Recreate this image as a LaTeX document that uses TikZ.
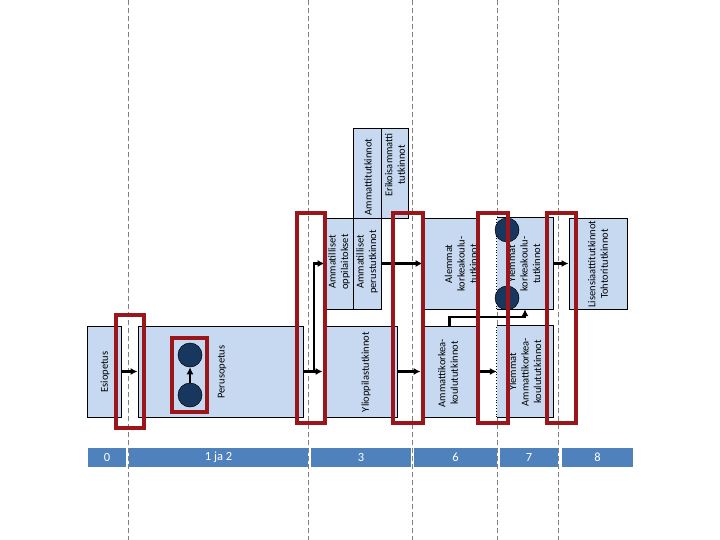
\documentclass[tikz,border=0pt]{standalone}
\usepackage{fontspec}
\setmainfont{Carlito}
\usetikzlibrary{arrows.meta}

\definecolor{boxblue}{RGB}{198,217,241}
\definecolor{barblue}{RGB}{79,129,189}
\definecolor{markred}{RGB}{155,22,26}
\definecolor{dotnavy}{RGB}{23,55,94}
\definecolor{guidegray}{RGB}{128,128,128}

\tikzset{
  edubox/.style={draw=black, fill=boxblue, line width=0.8pt, inner sep=0pt},
  eduopen/.style={fill=boxblue, inner sep=0pt},
  edutext/.style={rotate=90, align=center, inner sep=0pt,
    font=\fontsize{10.5}{12.5}\selectfont},
  levelbar/.style={fill=barblue, text=white, inner sep=0pt, minimum height=19,
    font=\fontsize{12.5}{13}\selectfont},
  ball/.style={circle, draw=black, line width=0.5pt, fill=dotnavy, minimum size=24, inner sep=0pt},
  flow/.style={-{Latex[length=7pt,width=7pt]}, line width=2.2pt},
  guide/.style={draw=guidegray, line width=0.8pt, dash pattern=on 5pt off 3pt},
  markbox/.style={draw=markred, line width=3.4pt}
}

\begin{document}
\begin{tikzpicture}[x=1pt,y=-1pt]
  \useasboundingbox (0,0) rectangle (720,540);
  % guide lines
  \foreach \gx in {128,308,412,497,558}
    \draw[guide] (\gx,0) -- (\gx,540);

  % level bar
  \node[levelbar, minimum width=38]  (lvl0) at (107,457.5)   {0};
  \node[levelbar, minimum width=179] (lvl1) at (218.5,457.5) {1 ja 2};
  \node[levelbar, minimum width=100] (lvl3) at (361,457.5)   {3};
  \node[levelbar, minimum width=83]  (lvl6) at (455.5,457.5) {6};
  \node[levelbar, minimum width=58]  (lvl7) at (529,457.5)   {7};
  \node[levelbar, minimum width=71]  (lvl8) at (597.5,457.5) {8};

  % school boxes
  \node[edubox, minimum width=34, minimum height=91]  (esi)   at (104,371.5)   {};
  \node[edubox, minimum width=165, minimum height=91] (perus) at (220.5,371.5) {};
  \node[edubox, minimum width=74, minimum height=91]  (ylio)  at (360,371.5)   {};
  \node[edubox, minimum width=28, minimum height=91]  (ammopp) at (339,263.5)  {};
  \node[edubox, minimum width=28, minimum height=91]  (ammper) at (367,263.5)  {};
  \node[edubox, minimum width=28, minimum height=90]  (ammtut) at (367,173)    {};
  \node[edubox, minimum width=27, minimum height=90]  (erik)  at (394.5,173)   {};
  \node[edubox, minimum width=55, minimum height=91]  (alem)  at (450.5,263.5) {};
  \node[edubox, minimum width=57, minimum height=91]  (amk)   at (449.5,371.5) {};
  \node[eduopen, minimum width=56, minimum height=91] (ylkk)  at (525,263.5)   {};
  \node[eduopen, minimum width=56, minimum height=91] (ylamk) at (525,371.5)   {};
  \node[edubox, minimum width=58, minimum height=91]  (lis)   at (598,263.5)   {};
  % open left side of the upper degrees
  \foreach \bx in {ylkk,ylamk}{
    \draw[line width=0.8pt] (\bx.north west) -- (\bx.north east) -- (\bx.south east) -- (\bx.south west);
    \draw[line width=0.8pt, dotted] (\bx.south west) -- (\bx.north west);
  }

  % box texts
  \node[edutext] (esi-t)    at (105,372) {Esiopetus};
  \node[edutext] (perus-t)  at (222,372) {Perusopetus};
  \node[edutext] (ylio-t)   at (366,372) {Ylioppilastutkinnot};
  \node[edutext] (ammopp-t) at (339,262) {Ammatilliset\\oppilaitokset};
  \node[edutext] (ammper-t) at (367,262) {Ammatilliset\\perustutkinnot};
  \node[edutext] (ammtut-t) at (368,177) {Ammattitutkinnot};
  \node[edutext] (erik-t)   at (395,165) {Erikoisammatti\\tutkinnot};
  \node[edutext] (alem-t)   at (461,264) {Alemmat\\korkeakoulu-\\tutkinnot};
  \node[edutext] (ylkk-t)   at (524,264) {Ylemmät\\korkeakoulu-\\tutkinnot};
  \node[edutext] (amk-t)    at (448,373) {Ammattikorkea-\\koulututkinnot};
  \node[edutext] (ylamk-t)  at (525,372) {Ylemmät\\Ammattikorkea-\\koulututkinnot};
  \node[edutext] (lis-t)    at (598,264) {Lisensiaattitutkinnot\\Tohtoritutkinnot};

  % dots
  \node[ball] (pe-up)   at (190,355) {};
  \node[ball] (pe-down) at (190,395) {};
  \node[ball] (kk-up)   at (507,230) {};
  \node[ball] (kk-down) at (507,298) {};

  % arrows
  \coordinate (split) at (314,371.5);
  \draw[flow] (esi.east) -- (perus.west);
  \draw[flow] (perus.east) -- (ylio.west);
  \draw[flow] (split) |- (ammopp.west);
  \draw[flow] (ammper.east) -- (alem.west);
  \draw[flow] (ylio.east) -- (amk.west);
  \draw[flow] (amk.east) -- (ylamk.west);
  \draw[flow] (amk.north) -- ++(0,-9) -| (ylkk.south);
  \draw[flow] (ylkk.east) -- (lis.west);
  \draw[flow] (pe-down) -- (pe-up);

  % transitions
  \draw[markbox] (116,315) rectangle (144,428);
  \draw[markbox] (172,338) rectangle (207,412);
  \draw[markbox] (297,213) rectangle (325,423);
  \draw[markbox] (393,213) rectangle (423,423);
  \draw[markbox] (478,213) rectangle (508,423);
  \draw[markbox] (547,213) rectangle (576,423);
\end{tikzpicture}
\end{document}
